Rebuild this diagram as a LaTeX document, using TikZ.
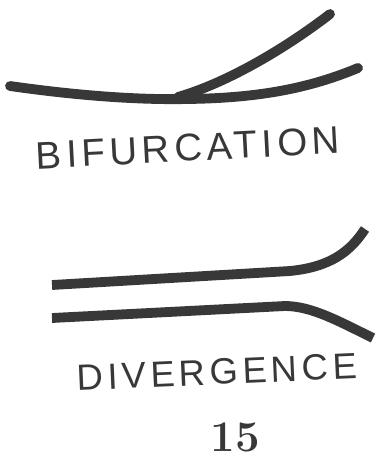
\documentclass[tikz,border=0pt]{standalone}
\usepackage{fontspec}
\usepackage{tikz}
\usetikzlibrary{calc}
\newfontfamily\labelfont[LetterSpace=12]{Liberation Sans}
\definecolor{ink}{HTML}{383838}
\tikzset{
  stroke/.style={draw=ink, line width=7.4pt, line cap=round},
  caption/.style={text=ink, inner sep=0pt}
}

\begin{document}
\begin{tikzpicture}[x=0.0265cm, y=-0.0265cm]

  \useasboundingbox (0,0) rectangle (377,459);

  % Gabelung: Stamm und zwei Aeste
  \coordinate (J) at (188,99);
  \draw[stroke] (10,86) .. controls (80,96) and (140,100) .. (J);
  \draw[stroke] (J) .. controls (260,98) and (310,88) .. (358,68);
  \draw[stroke] (178,97) .. controls (230,82) and (290,45) .. (330,14);

  \node[caption, font=\labelfont\fontsize{29}{34}\selectfont, rotate=3] (bifurcation) at (188,148) {BIFURCATION};

  % Auseinanderlaufen: zwei Linien
  \coordinate (U) at (290,271);
  \coordinate (L) at (285,306);
  \draw[stroke, line cap=butt] (52,285) -- (U) .. controls (330,267) and (350,252) .. (365,229);
  \draw[stroke, line cap=butt] (52,318) -- (L) .. controls (312,306) and (340,322) .. (373,338);

  \node[caption, font=\labelfont\fontsize{27.5}{32}\selectfont, rotate=2.5] (divergence) at (217,372) {DIVERGENCE};

  % Bildnummer
  \node[caption, font=\bfseries\fontsize{33}{38}\selectfont] (fignum) at (235,437) {15};

\end{tikzpicture}
\end{document}
